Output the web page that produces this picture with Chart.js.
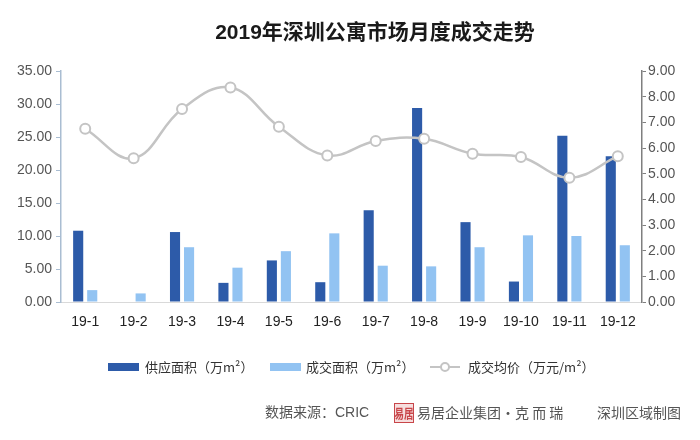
<!DOCTYPE html>
<html>
<head>
<meta charset="utf-8">
<script src="https://cdn.jsdelivr.net/npm/chart.js@4/dist/chart.umd.min.js"></script>
<style>
  html, body { margin: 0; padding: 0; background: #fff; }
  #wrap { position: relative; width: 700px; height: 440px; }
</style>
</head>
<body>
<div id="wrap"><canvas id="myChart" width="700" height="440"></canvas></div>
<script>
// 月份
var months = ['19-1', '19-2', '19-3', '19-4', '19-5', '19-6', '19-7', '19-8', '19-9', '19-10', '19-11', '19-12'];
// 供应面积（万m²）
var supply = [10.8, 0, 10.6, 2.9, 6.3, 3.0, 13.9, 29.4, 12.1, 3.1, 25.2, 22.1];
// 成交面积（万m²）
var deal = [1.8, 1.3, 8.3, 5.2, 7.7, 10.4, 5.5, 5.4, 8.3, 10.1, 10.0, 8.6];
// 成交均价（万元/m²）
var price = [6.75, 5.60, 7.52, 8.36, 6.83, 5.71, 6.27, 6.36, 5.78, 5.65, 4.84, 5.68];

var leftTicks = [0, 5, 10, 15, 20, 25, 30, 35];
var rightTicks = [0, 1, 2, 3, 4, 5, 6, 7, 8, 9];

var FONT = '"Noto Sans CJK SC", "Noto Sans", sans-serif';
var NUMFONT = '"Liberation Sans", "Noto Sans CJK SC", sans-serif';

// 标题、图例和来源
var decor = {
  id: 'decor',
  afterDraw: function (chart) {
    var c = chart.ctx;
    c.save();
    c.fillStyle = '#1a1a1a';
    c.font = 'bold 21px ' + NUMFONT;
    c.textAlign = 'center';
    c.textBaseline = 'middle';
    c.fillText('2019年深圳公寓市场月度成交走势', 375, 33);

    // 图例
    var ds = chart.data.datasets;
    var y = 367;
    c.font = '13px ' + FONT;
    c.textAlign = 'left';
    c.fillStyle = ds[0].backgroundColor;
    c.fillRect(108, y - 4, 31, 8);
    c.fillStyle = '#333';
    c.fillText(ds[0].label, 145, y);
    c.fillStyle = ds[1].backgroundColor;
    c.fillRect(270, y - 4, 31, 8);
    c.fillStyle = '#333';
    c.fillText(ds[1].label, 306, y);
    c.strokeStyle = ds[2].borderColor;
    c.lineWidth = 2;
    c.beginPath();
    c.moveTo(430, y); c.lineTo(460, y); c.stroke();
    c.beginPath();
    c.arc(445, y, 4, 0, Math.PI * 2);
    c.fillStyle = '#fff'; c.fill(); c.stroke();
    c.fillStyle = '#333';
    c.fillText(ds[2].label, 468, y);

    // 来源
    var fy = 413;
    c.fillStyle = '#555';
    c.font = '14px ' + NUMFONT;
    c.fillText('数据来源：CRIC', 265, fy);
    c.strokeStyle = '#c8464a';
    c.lineWidth = 1;
    c.fillStyle = '#f6dede';
    c.fillRect(394, fy - 10, 20, 20);
    c.strokeRect(394.5, fy - 9.5, 19, 19);
    c.fillStyle = '#c8464a';
    c.font = 'bold 13px ' + FONT;
    c.textAlign = 'center';
    c.fillText('易居', 404, fy, 19);
    c.textAlign = 'left';
    c.fillStyle = '#555';
    c.font = '14px ' + FONT;
    c.fillText('易居企业集团·克 而 瑞', 417, fy);
    c.fillText('深圳区域制图', 597, fy);
    c.restore();
  }
};

var ctx = document.getElementById('myChart').getContext('2d');
var myChart = new Chart(ctx, {
  type: 'bar',
  data: {
    labels: months,
    datasets: [{
      label: '供应面积（万m²）',
      data: supply,
      backgroundColor: '#2d5ba9',
      yAxisID: 'y',
      order: 2
    }, {
      label: '成交面积（万m²）',
      data: deal,
      backgroundColor: '#92c3f2',
      yAxisID: 'y',
      order: 2
    }, {
      type: 'line',
      label: '成交均价（万元/m²）',
      data: price,
      borderColor: '#c4c4c4',
      borderWidth: 2.5,
      tension: 0.4,
      pointRadius: 5,
      pointBorderWidth: 2,
      pointBackgroundColor: '#fff',
      pointBorderColor: '#c4c4c4',
      yAxisID: 'y1',
      order: 1
    }]
  },
  options: {
    responsive: false,
    animation: false,
    layout: { padding: { top: 71, left: 0, right: 0, bottom: 0 } },
    datasets: {
      bar: { categoryPercentage: 0.58, barPercentage: 0.72 }
    },
    plugins: {
      legend: { display: false },
      title: { display: false },
      tooltip: { enabled: false }
    },
    scales: {
      x: {
        afterFit: function (s) { s.height = 138; },
        grid: { display: false, drawTicks: false },
        border: { color: '#d9d9d9', width: 1 },
        ticks: { color: '#222', font: { size: 14, family: NUMFONT }, padding: 12 }
      },
      y: {
        position: 'left',
        min: 0, max: 35,
        afterFit: function (s) { s.width = 61; },
        afterBuildTicks: function (s) { s.ticks = leftTicks.map(function (v) { return { value: v }; }); },
        grid: { drawOnChartArea: false, tickLength: 5, color: '#a9bdd2' },
        border: { color: '#a9bdd2', width: 1.5 },
        ticks: {
          color: '#555', font: { size: 14, family: NUMFONT }, padding: 4,
          callback: function (v) { return v.toFixed(2); }
        }
      },
      y1: {
        position: 'right',
        min: 0, max: 9,
        afterFit: function (s) { s.width = 58; },
        afterBuildTicks: function (s) { s.ticks = rightTicks.map(function (v) { return { value: v }; }); },
        grid: { drawOnChartArea: false, tickLength: 4, color: '#7f7f7f' },
        border: { color: '#7f7f7f', width: 1.5 },
        ticks: {
          color: '#555', font: { size: 14, family: NUMFONT }, padding: 2,
          callback: function (v) { return v.toFixed(2); }
        }
      }
    }
  },
  plugins: [decor]
});
</script>
</body>
</html>
